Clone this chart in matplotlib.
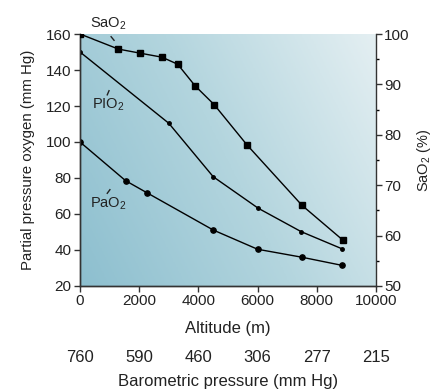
import numpy as np
import matplotlib
matplotlib.use('Agg')
import matplotlib.pyplot as plt
from matplotlib.colors import LinearSegmentedColormap

plt.rcParams['font.family'] = ['Liberation Sans', 'DejaVu Sans']
plt.rcParams['mathtext.default'] = 'regular'

# ---------------------------------------------------------------------------
# datos
# ---------------------------------------------------------------------------
alt_sao2 = [0, 1300, 2030, 2770, 3300, 3890, 4530, 5640, 7500, 8880]
sao2 = [100, 97.0, 96.2, 95.4, 94.0, 89.7, 86.0, 78.0, 66.0, 59.1]

alt_pio2 = [0, 3000, 4500, 6020, 7470, 8860]
pio2 = [150, 110.4, 80.7, 63.2, 50.2, 40.6]

alt_pao2 = [0, 1540, 2260, 4500, 6000, 7490, 8840]
pao2 = [100, 78.5, 71.8, 51.1, 40.4, 36.0, 31.5]

alt_ticks = [0, 2000, 4000, 6000, 8000, 10000]
baro_labels = ['760', '590', '460', '306', '277', '215']

# ---------------------------------------------------------------------------
fig = plt.figure(figsize=(4.33, 3.90), dpi=100)
ax = fig.add_axes([0.1848, 0.2667, 0.6836, 0.6461])
ax2 = ax.twinx()

# fondo degradado
cmap = LinearSegmentedColormap.from_list('bg', ['#8dbfcf', '#b3d5de', '#e4eff2'])
xx, yy = np.meshgrid(np.linspace(0, 1, 200), np.linspace(0, 1, 200))
grad = (xx * 0.7 + yy * 0.3)
ax.imshow(grad, extent=[0, 10000, 20, 160], origin='lower', aspect='auto',
          cmap=cmap, zorder=0)

ax.plot(alt_pio2, pio2, '-o', color='black', lw=1.0, ms=2.5, zorder=3)
ax.plot(alt_pao2, pao2, '-o', color='black', lw=1.0, ms=3.8, zorder=3)
ax2.plot(alt_sao2, sao2, '-s', color='black', lw=1.0, ms=4.0, zorder=3)

ax.set_xlim(0, 10000)
ax.set_ylim(20, 160)
ax2.set_ylim(50, 100)
ax.set_xticks(alt_ticks)
ax.set_yticks(np.arange(20, 161, 20))
ax2.set_yticks(np.arange(50, 101, 10))
ax2.set_yticks(np.arange(55, 100, 10), minor=True)

for a in (ax, ax2):
    a.spines['top'].set_visible(False)
    for s in a.spines.values():
        s.set_color('#333333')
        s.set_linewidth(1.0)
    a.tick_params(colors='#333333', labelcolor='#222222', labelsize=11,
                  length=4, width=1.0, direction='out', pad=2)
ax.spines['right'].set_visible(False)
ax2.tick_params(which='minor', length=2.5, width=1.0)

ax.set_xlabel('Altitude (m)', fontsize=12, color='#222222', labelpad=9)
ax.set_ylabel('Partial pressure oxygen (mm Hg)', fontsize=10.8, color='#222222', labelpad=8)
ax2.set_ylabel('SaO$_2$ (%)', fontsize=10.5, color='#222222', labelpad=4)

# eje secundario de presion barometrica
sec = ax.secondary_xaxis(-0.255)
sec.set_xticks(alt_ticks)
sec.set_xticklabels(baro_labels)
sec.spines['bottom'].set_visible(False)
sec.tick_params(length=0, labelsize=12, labelcolor='#222222', pad=0)
sec.set_xlabel('Barometric pressure (mm Hg)', fontsize=12, color='#222222', labelpad=6)

# etiquetas de las curvas
ax.text(950, 165.5, 'SaO$_2$', fontsize=10.5, ha='center', va='center', color='#222222')
ax.plot([1050, 1150], [158.5, 156.5], color='#222222', lw=1.0, clip_on=False)
ax.text(950, 120.5, 'PIO$_2$', fontsize=10.5, ha='center', va='center', color='#222222')
ax.plot([920, 980], [126.2, 128.5], color='#222222', lw=1.0)
ax.text(950, 65.5, 'PaO$_2$', fontsize=10.5, ha='center', va='center', color='#222222')
ax.plot([920, 1010], [71.5, 73.5], color='#222222', lw=1.0)

plt.savefig('out.png', dpi=100)
